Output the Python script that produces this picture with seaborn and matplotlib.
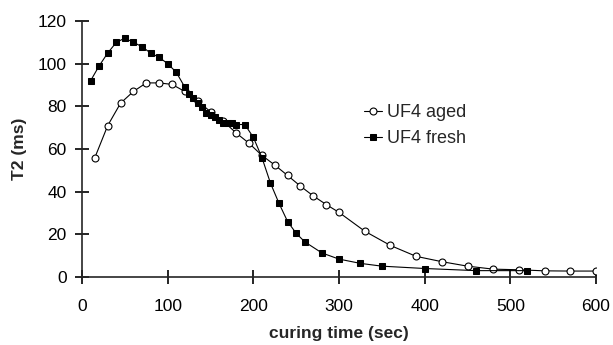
import matplotlib
matplotlib.use("Agg")
import matplotlib.pyplot as plt
import seaborn as sns
import pandas as pd

# UF4 aged (open circles)
aged_time = [15, 30, 45, 60, 75, 90, 105, 120, 135, 150, 165, 180, 195, 210, 225,
             240, 255, 270, 285, 300, 330, 360, 390, 420, 450, 480, 510, 540, 570, 600]
aged_t2 = [56, 71, 81.5, 87, 91, 91, 90.3, 87, 82.5, 77.5, 73, 67.5, 62.7, 57, 52.5,
           47.6, 42.6, 38, 34, 30.3, 21.5, 14.8, 9.7, 7.2, 5.1, 3.7, 3.4, 2.9, 2.8, 2.8]

# UF4 fresh (filled squares)
fresh_time = [10, 20, 30, 40, 50, 60, 70, 80, 90, 100, 110, 120, 125, 130, 135, 140,
              145, 150, 155, 160, 165, 170, 175, 180, 190, 200, 210, 220, 230, 240,
              250, 260, 280, 300, 325, 350, 400, 460, 520]
fresh_t2 = [92, 99, 105, 110, 112, 110, 108, 105, 103, 100, 96, 89, 86, 84, 81.5, 79.5,
            77, 76, 75, 73.5, 72, 72, 72, 71.5, 71.5, 65.5, 56, 44, 34.5, 26,
            20.5, 16.5, 11.3, 8.4, 6.4, 5.1, 4, 3, 3]

aged = pd.DataFrame({"time": aged_time, "T2": aged_t2})
fresh = pd.DataFrame({"time": fresh_time, "T2": fresh_t2})

sns.set_style("ticks")
plt.rcParams["font.family"] = ["Liberation Sans", "DejaVu Sans"]

fig, ax = plt.subplots(figsize=(6.13, 3.45), dpi=100)
fig.subplots_adjust(left=0.1338, right=0.9723, top=0.939, bottom=0.197)

sns.lineplot(data=aged, x="time", y="T2", ax=ax, color="black", lw=0.8,
             marker="o", ms=5, mfc="white", mec="black", mew=0.8, label="UF4 aged")
sns.lineplot(data=fresh, x="time", y="T2", ax=ax, color="black", lw=0.8,
             marker="s", ms=4.5, mfc="black", mec="black", label="UF4 fresh")

ax.set_xlim(0, 600)
ax.set_ylim(0, 120)
ax.set_xticks(range(0, 601, 100))
ax.set_yticks(range(0, 121, 20))
sns.despine(ax=ax)
for s in ["left", "bottom"]:
    ax.spines[s].set_linewidth(1.2)
ax.tick_params(axis="both", direction="inout", length=10, width=1.2,
               labelsize=12.5, colors="black")
ax.tick_params(axis="x", pad=11)
ax.tick_params(axis="y", pad=6)

ax.set_xlabel("curing time (sec)", fontsize=12.5, fontweight="bold")
ax.set_ylabel("T2 (ms)", fontsize=12.5, fontweight="bold")
ax.xaxis.set_label_coords(0.5, -0.19)
ax.yaxis.set_label_coords(-0.107, 0.5)

ax.legend(loc="upper left", bbox_to_anchor=(0.548, 0.675), frameon=False,
          fontsize=13, handlelength=1.0, handletextpad=0.3, borderpad=0,
          borderaxespad=0, labelspacing=0.5)

plt.savefig("out.png", dpi=100)
plt.close()
